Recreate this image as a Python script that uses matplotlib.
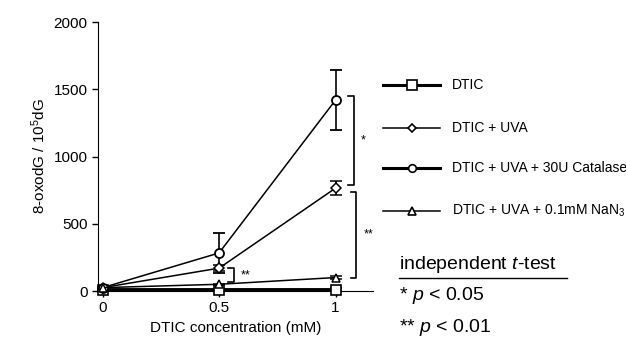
import matplotlib.pyplot as plt

# data
conc = [0, 0.5, 1]
dtic = [10, 10, 10]
dtic_err = [5, 5, 10]
uva = [25, 170, 765]
uva_err = [5, 20, 50]
catalase = [25, 283, 1420]
catalase_err = [5, 150, 220]
nan3 = [25, 50, 100]
nan3_err = [5, 5, 10]

labels = ['DTIC', 'DTIC + UVA', 'DTIC + UVA + 30U Catalase', 'DTIC + UVA + 0.1mM NaN$_3$']

plt.rcParams['font.family'] = ['Liberation Sans', 'DejaVu Sans']
plt.rcParams['mathtext.fontset'] = 'custom'
plt.rcParams['mathtext.rm'] = 'Liberation Sans'
plt.rcParams['mathtext.it'] = 'Liberation Sans:italic'

fig = plt.figure(figsize=(6.26, 3.43), dpi=100)
ax = fig.add_axes([0.1565, 0.1516, 0.439, 0.784])

kw = dict(color='black', mfc='white', mec='black', capsize=4, elinewidth=1.2,
          capthick=1.2, clip_on=False, zorder=3)
ax.errorbar(conc, dtic, yerr=dtic_err, marker='s', ms=7, lw=2.8, mew=1.2, **kw)
ax.errorbar(conc, uva, yerr=uva_err, marker='D', ms=5, lw=1.1, mew=1.1, **kw)
ax.errorbar(conc, catalase, yerr=catalase_err, marker='o', ms=6.5, lw=1.1, mew=1.3, **kw)
ax.errorbar(conc, nan3, yerr=nan3_err, marker='^', ms=6, lw=1.1, mew=1.1, **kw)

ax.set_xlim(-0.02, 1.16)
ax.set_ylim(0, 2000)
ax.set_xticks([0, 0.5, 1])
ax.set_xticklabels(['0', '0.5', '1'])
ax.set_yticks([0, 500, 1000, 1500, 2000])
ax.spines['top'].set_visible(False)
ax.spines['right'].set_visible(False)
ax.tick_params(labelsize=11, length=4, width=1)
ax.set_xlabel('DTIC concentration (mM)', fontsize=11)
ax.set_ylabel('8-oxodG / 10$^5$dG', fontsize=11)

# significance brackets
def bracket(x, y0, y1, txt, dx=0.025):
    ax.plot([x - dx, x, x, x - dx], [y1, y1, y0, y0], color='black', lw=1.2, clip_on=False)
    ax.text(x + 0.03, (y0 + y1) / 2, txt, fontsize=9, ha='left', va='center')

bracket(1.08, 790, 1450, '*')
bracket(1.09, 100, 740, '**')
bracket(0.565, 65, 170, '**')

# legend drawn by hand in figure coordinates
markers = [('s', 7, 2.2), ('D', 4.5, 1.1), ('o', 5.5, 2.2), ('^', 5.5, 1.1)]
rows = [0.752, 0.627, 0.510, 0.385]
for (m, ms, lw), lab, yy in zip(markers, labels, rows):
    fig.add_artist(plt.Line2D([0.612, 0.658, 0.703], [yy, yy, yy], color='black', lw=lw,
                              marker=m, markevery=[1], ms=ms, mfc='white', mec='black',
                              mew=1.2))
    fig.text(0.722, yy, lab, fontsize=10, va='center', ha='left')

fig.text(0.638, 0.228, 'independent $t$-test', fontsize=14, va='center', ha='left')
fig.add_artist(plt.Line2D([0.638, 0.905], [0.19, 0.19], color='black', lw=1))
fig.text(0.638, 0.138, '* $p$ < 0.05', fontsize=14, va='center', ha='left')
fig.text(0.638, 0.044, '** $p$ < 0.01', fontsize=14, va='center', ha='left')

fig.savefig('out.png', dpi=100)
